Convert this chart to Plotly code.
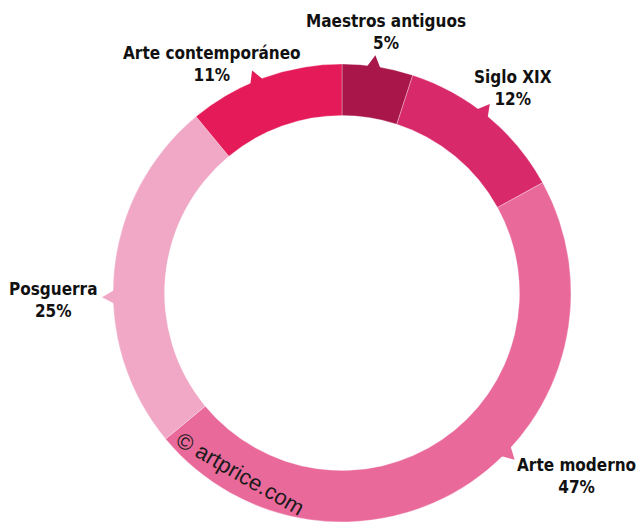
import numpy as np
import plotly.graph_objects as go

# Données
categories = ["Maestros antiguos", "Siglo XIX", "Arte moderno", "Posguerra", "Arte contemporáneo"]
shares = [5, 12, 47, 25, 11]
share_labels = ["5%", "12%", "47%", "25%", "11%"]
colors = ["#a9174a", "#d8296a", "#e9699b", "#f0a8c6", "#e51a58"]

# Mise en page (pixels)
W, H = 636, 522
cx, cy, R = 342, 293, 229
label_pos = [(386, 32), (513, 88), (576, 476), (53, 300), (212, 64)]
pointer_angles = [8, 38, 134, 269, 338]   # direction des petites flèches (degrés, sens horaire)


def to_paper(x, y):
    return x / W, 1 - y / H


fig = go.Figure()

fig.add_trace(go.Pie(
    labels=categories,
    values=shares,
    hole=0.775,
    sort=False,
    direction="clockwise",
    rotation=0,
    textinfo="none",
    hoverinfo="label+percent",
    marker=dict(colors=colors, line=dict(color="rgba(255,255,255,0.5)", width=0.6)),
    domain=dict(x=[(cx - R) / W, (cx + R) / W], y=[(H - cy - R) / H, (H - cy + R) / H]),
    showlegend=False,
))

# Petits triangles pointant vers les étiquettes
shapes = []
for deg, col in zip(pointer_angles, colors):
    a = np.radians(deg)
    da = 8 / R
    pts = []
    for ang, r in [(a - da, R - 3), (a, R + 11), (a + da, R - 3)]:
        pts.append(to_paper(cx + r * np.sin(ang), cy - r * np.cos(ang)))
    path = "M {} {} L {} {} L {} {} Z".format(*[c for p in pts for c in p])
    shapes.append(dict(type="path", xref="paper", yref="paper", path=path,
                       fillcolor=col, line=dict(width=0)))

annotations = []
cond = "font-stretch:condensed"
for name, pct, (lx, ly) in zip(categories, share_labels, label_pos):
    x, y = to_paper(lx, ly)
    annotations.append(dict(
        x=x, y=y, xref="paper", yref="paper", showarrow=False,
        text=f"<span style='{cond}'>{name}</span><br><span style='{cond}'>{pct}</span>",
        align="center", xanchor="center", yanchor="middle",
        font=dict(family="DejaVu Sans Condensed, DejaVu Sans, sans-serif",
                  size=17, color="#111111", weight="bold"),
    ))

# Filigrane
wx, wy = to_paper(240, 473)
annotations.append(dict(
    x=wx, y=wy, xref="paper", yref="paper", showarrow=False,
    xanchor="center", yanchor="middle", borderpad=0, borderwidth=0,
    text="© artprice.com", textangle=30,
    font=dict(family="Liberation Sans, Arial, sans-serif", size=22, color="#1a1a1a"),
))

fig.update_layout(
    width=W, height=H,
    margin=dict(l=0, r=0, t=0, b=0),
    paper_bgcolor="white",
    plot_bgcolor="white",
    shapes=shapes,
    annotations=annotations,
)

fig.write_html("out.html", config={"displayModeBar": False},
               post_script="document.body.style.margin='0';")
